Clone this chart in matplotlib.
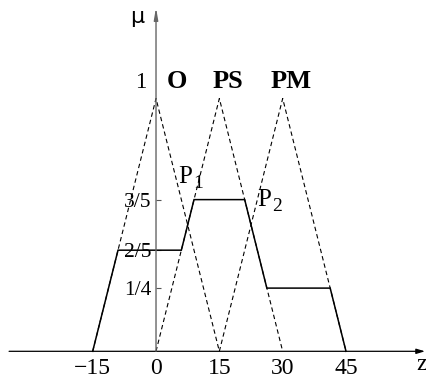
import matplotlib
matplotlib.use("Agg")
import matplotlib.pyplot as plt

plt.rcParams['font.family'] = ['Liberation Serif', 'DejaVu Serif']

# fuzzy sets on the output universe z: triangles (left foot, peak, right foot)
set_names = ['O', 'PS', 'PM']
set_feet_left = [-15, 0, 15]
set_peaks = [0, 15, 30]
set_feet_right = [15, 30, 45]

# clipped and aggregated output (breakpoints of the solid curve)
out_z = [-15, -9, 6, 9, 21, 26.25, 41.25, 45]
out_mu = [0, 2/5, 2/5, 3/5, 3/5, 1/4, 1/4, 0]

z_ticks = [-15, 0, 15, 30, 45]
z_labels = ['\u221215', '0', '15', '30', '45']
mu_ticks = [1/4, 2/5, 3/5]
mu_labels = ['1/4', '2/5', '3/5']

# intersection points of neighbouring sets
p_subs = ['1', '2']
p_z = [7.5, 22.5]
p_mu = [0.5, 0.5]

fig = plt.figure(figsize=(4.27, 3.80), dpi=100)
ax = fig.add_axes([0, 0, 1, 1])
ax.set_xlim(-36.95, 64.18)
ax.set_ylim(-0.1135, 1.3896)
for s in ax.spines.values():
    s.set_visible(False)
ax.spines['left'].set_position(('data', 0))
ax.spines['bottom'].set_position(('data', 0))

# axes drawn as arrows
ax.annotate('', xy=(63.7, 0), xytext=(-34.8, 0),
            arrowprops=dict(arrowstyle='-|>,head_length=0.5,head_width=0.15',
                            lw=0.9, color='black', shrinkA=0, shrinkB=0,
                            mutation_scale=10))
ax.annotate('', xy=(0, 1.36), xytext=(0, 0),
            arrowprops=dict(arrowstyle='-|>,head_length=0.7,head_width=0.12',
                            lw=1.0, color='#666666', shrinkA=0, shrinkB=0,
                            mutation_scale=10))

# membership triangles
for name, a, c, b, dx in zip(set_names, set_feet_left, set_peaks,
                             set_feet_right, [15, 6, 6]):
    ax.plot([a, c, b], [0, 1, 0], color='black', lw=0.8,
            dashes=(4.0, 2.8))
    ax.annotate(name, xy=(c, 1), xytext=(dx, 7.5), textcoords='offset points',
                ha='center', va='baseline', fontsize=19, fontweight='bold')

ax.plot(out_z, out_mu, color='black', lw=1.1, solid_joinstyle='miter')

for sub, z, m, (ox, oy) in zip(p_subs, p_z, p_mu, [(-7, 30), (4.3, 13.7)]):
    ax.annotate('P', xy=(z, m), xytext=(ox, oy), textcoords='offset points',
                ha='left', va='baseline', fontsize=18)
    ax.annotate(sub, xy=(z, m), xytext=(ox + 11, oy - 3.5),
                textcoords='offset points',
                ha='left', va='baseline', fontsize=14)

ax.set_xticks(z_ticks, z_labels, fontsize=17)
ax.set_yticks(mu_ticks, mu_labels, fontsize=15.5)
ax.tick_params(axis='x', length=0, pad=5)
ax.tick_params(axis='y', direction='in', length=3.6, width=0.8,
               color='#555555', pad=3)

ax.annotate('1', xy=(0, 1), xytext=(-6.7, 4), textcoords='offset points',
            ha='right', va='bottom', fontsize=16.5)
ax.annotate('\u03bc', xy=(0, 1.3), xytext=(-13.5, 0), textcoords='offset points',
            ha='center', va='baseline', fontsize=16, family='DejaVu Sans')
ax.text(61.6, -0.074, 'z', ha='left', va='baseline', fontsize=17)

fig.savefig('out.png', dpi=100)
